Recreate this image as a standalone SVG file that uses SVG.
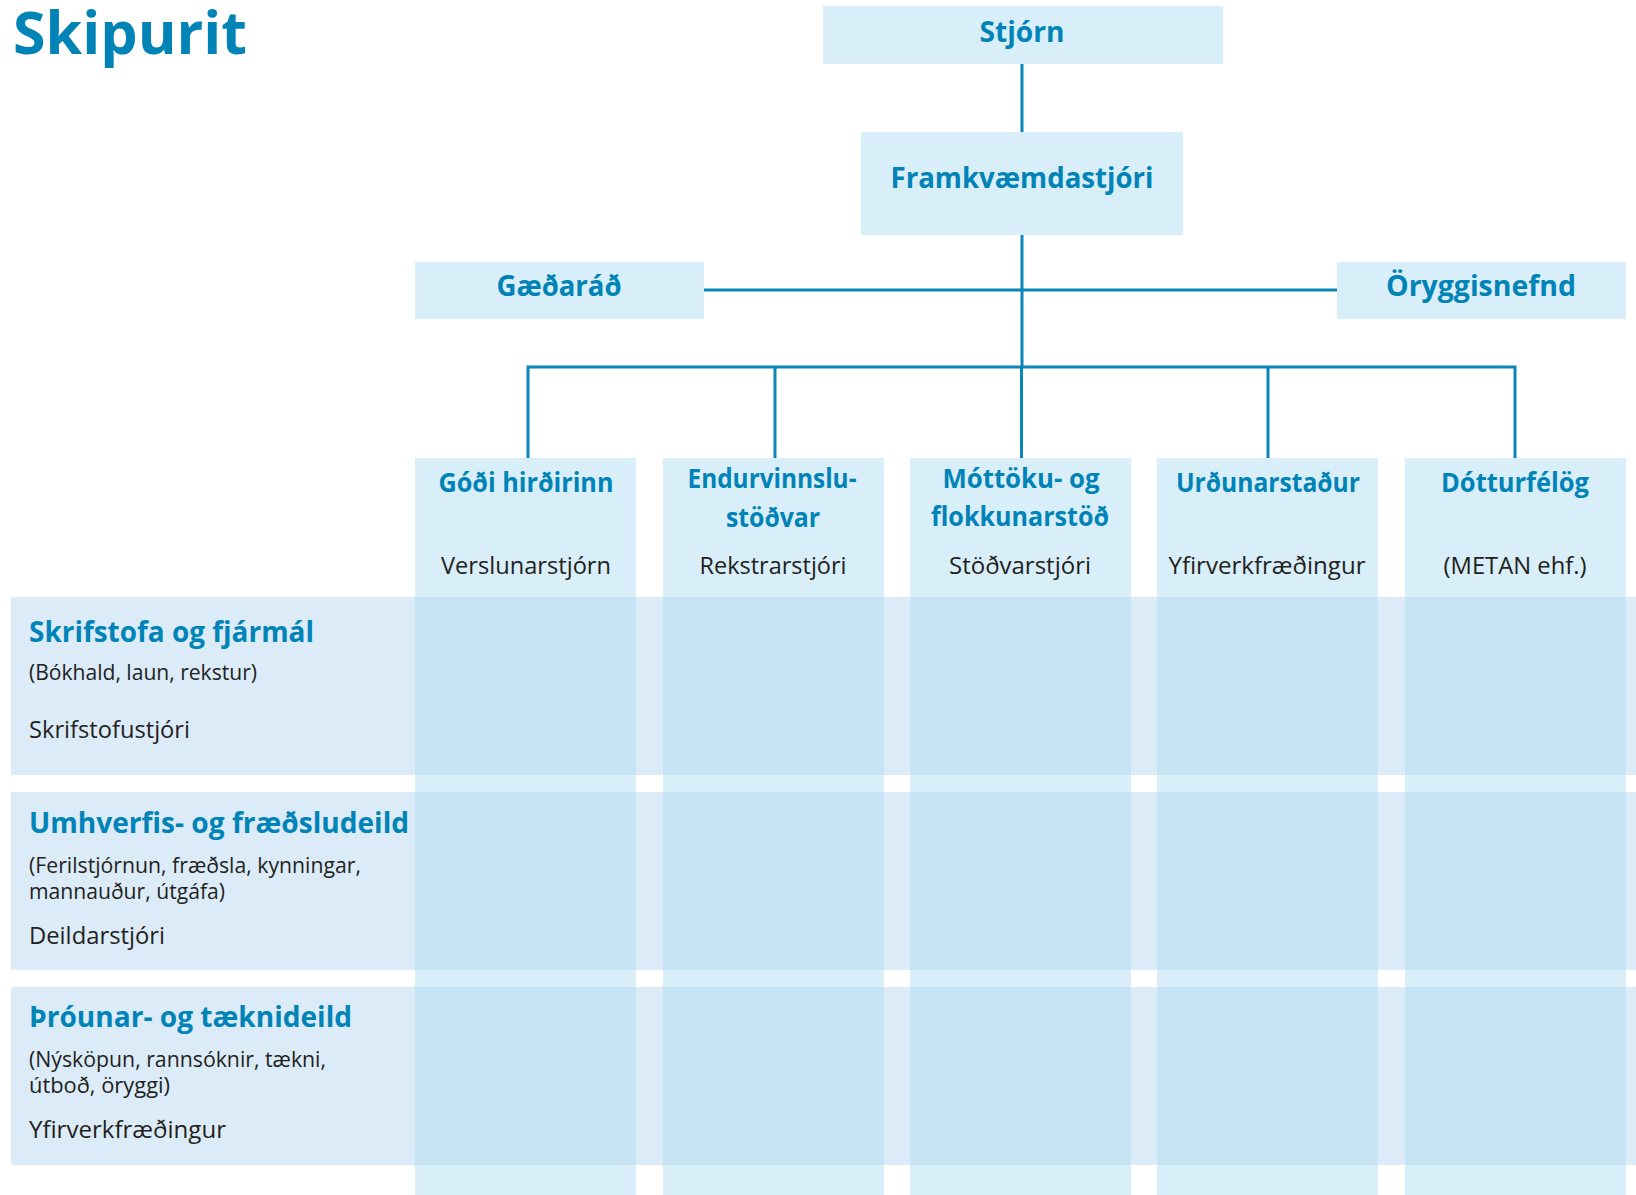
<svg xmlns="http://www.w3.org/2000/svg" width="1636" height="1195" viewBox="0 0 1636 1195">
<style>
.box{fill:#d8eef9}
.row{fill:#dbebf8}
.ov{fill:#c7e4f5}
.b{font-family:"Open Sans","Liberation Sans",sans-serif;font-weight:700;fill:#0083b7}
.r{font-family:"Open Sans","Liberation Sans",sans-serif;font-weight:400;fill:#231f20}
.c{text-anchor:middle}
.ln{stroke:#0a86b8;stroke-width:3;fill:none}
</style>
<rect width="1636" height="1195" fill="#ffffff"/>
<text class="b" x="13" y="54" font-size="59" textLength="234" lengthAdjust="spacingAndGlyphs">Skipurit</text>

<g id="connectors">
<line class="ln" x1="1022" y1="64" x2="1022" y2="132"/>
<line class="ln" x1="1022" y1="235" x2="1022" y2="367"/>
<line class="ln" x1="704" y1="290" x2="1337" y2="290"/>
<polyline class="ln" points="528,458 528,367 1515,367 1515,458"/>
<line class="ln" x1="775" y1="367" x2="775" y2="458"/>
<line class="ln" x1="1021.5" y1="367" x2="1021.5" y2="458"/>
<line class="ln" x1="1268" y1="367" x2="1268" y2="458"/>
</g>

<g id="stjorn">
<rect class="box" x="823" y="6" width="400" height="58"/>
<text class="b c" x="1022" y="42" font-size="28.5" textLength="85" lengthAdjust="spacingAndGlyphs">Stjórn</text>
</g>
<g id="framkvaemdastjori">
<rect class="box" x="861" y="132" width="322" height="103"/>
<text class="b c" x="1022" y="188" font-size="28.5" textLength="263" lengthAdjust="spacingAndGlyphs">Framkvæmdastjóri</text>
</g>
<g id="gaedarad">
<rect class="box" x="415" y="262" width="289" height="57"/>
<text class="b c" x="559" y="296" font-size="28.5" textLength="125" lengthAdjust="spacingAndGlyphs">Gæðaráð</text>
</g>
<g id="oryggisnefnd">
<rect class="box" x="1337" y="262" width="289" height="57"/>
<text class="b c" x="1481" y="296" font-size="28.5" textLength="190" lengthAdjust="spacingAndGlyphs">Öryggisnefnd</text>
</g>

<g id="columns">
<rect class="box" x="415" y="458" width="221" height="737"/>
<rect class="box" x="663" y="458" width="221" height="737"/>
<rect class="box" x="910" y="458" width="221" height="737"/>
<rect class="box" x="1157" y="458" width="221" height="737"/>
<rect class="box" x="1405" y="458" width="221" height="737"/>
</g>

<g id="rows">
<rect class="row" x="11" y="597" width="1625" height="178"/>
<rect class="row" x="11" y="792" width="1625" height="178"/>
<rect class="row" x="11" y="987" width="1625" height="178"/>
<g>
<rect class="ov" x="415" y="597" width="221" height="178"/>
<rect class="ov" x="663" y="597" width="221" height="178"/>
<rect class="ov" x="910" y="597" width="221" height="178"/>
<rect class="ov" x="1157" y="597" width="221" height="178"/>
<rect class="ov" x="1405" y="597" width="221" height="178"/>
<rect class="ov" x="415" y="792" width="221" height="178"/>
<rect class="ov" x="663" y="792" width="221" height="178"/>
<rect class="ov" x="910" y="792" width="221" height="178"/>
<rect class="ov" x="1157" y="792" width="221" height="178"/>
<rect class="ov" x="1405" y="792" width="221" height="178"/>
<rect class="ov" x="415" y="987" width="221" height="178"/>
<rect class="ov" x="663" y="987" width="221" height="178"/>
<rect class="ov" x="910" y="987" width="221" height="178"/>
<rect class="ov" x="1157" y="987" width="221" height="178"/>
<rect class="ov" x="1405" y="987" width="221" height="178"/>
</g>
</g>

<g id="godi-hirdirinn">
<text class="b c" x="526" y="492" font-size="26.5" textLength="175" lengthAdjust="spacingAndGlyphs">Góði hirðirinn</text>
<text class="r c" x="526" y="574" font-size="24.5" textLength="170" lengthAdjust="spacingAndGlyphs">Verslunarstjórn</text>
</g>
<g id="endurvinnslustodvar">
<text class="b c" x="772" y="488" font-size="26.5" textLength="169" lengthAdjust="spacingAndGlyphs">Endurvinnslu-</text>
<text class="b c" x="773" y="527" font-size="26.5" textLength="94" lengthAdjust="spacingAndGlyphs">stöðvar</text>
<text class="r c" x="773" y="574" font-size="24.5" textLength="147" lengthAdjust="spacingAndGlyphs">Rekstrarstjóri</text>
</g>
<g id="mottoku">
<text class="b c" x="1021" y="488" font-size="26.5" textLength="157" lengthAdjust="spacingAndGlyphs">Móttöku- og</text>
<text class="b c" x="1020" y="526" font-size="26.5" textLength="178" lengthAdjust="spacingAndGlyphs">flokkunarstöð</text>
<text class="r c" x="1020" y="574" font-size="24.5" textLength="142" lengthAdjust="spacingAndGlyphs">Stöðvarstjóri</text>
</g>
<g id="urdunarstadur">
<text class="b c" x="1268" y="492" font-size="26.5" textLength="184" lengthAdjust="spacingAndGlyphs">Urðunarstaður</text>
<text class="r c" x="1267" y="574" font-size="24.5" textLength="197" lengthAdjust="spacingAndGlyphs">Yfirverkfræðingur</text>
</g>
<g id="dotturfelog">
<text class="b c" x="1515" y="492" font-size="26.5" textLength="148" lengthAdjust="spacingAndGlyphs">Dótturfélög</text>
<text class="r c" x="1515" y="574" font-size="24.5" textLength="143" lengthAdjust="spacingAndGlyphs">(METAN ehf.)</text>
</g>

<g id="skrifstofa">
<text class="b" x="29" y="642" font-size="28.5" textLength="285" lengthAdjust="spacingAndGlyphs">Skrifstofa og fjármál</text>
<text class="r" x="29" y="680" font-size="21.5" textLength="228" lengthAdjust="spacingAndGlyphs">(Bókhald, laun, rekstur)</text>
<text class="r" x="29" y="738" font-size="24.5" textLength="161" lengthAdjust="spacingAndGlyphs">Skrifstofustjóri</text>
</g>
<g id="umhverfis">
<text class="b" x="29" y="833" font-size="28.5" textLength="380" lengthAdjust="spacingAndGlyphs">Umhverfis- og fræðsludeild</text>
<text class="r" x="29" y="873" font-size="21.5" textLength="332" lengthAdjust="spacingAndGlyphs">(Ferilstjórnun, fræðsla, kynningar,</text>
<text class="r" x="29" y="899" font-size="21.5" textLength="196" lengthAdjust="spacingAndGlyphs">mannauður, útgáfa)</text>
<text class="r" x="29" y="944" font-size="24.5" textLength="136" lengthAdjust="spacingAndGlyphs">Deildarstjóri</text>
</g>
<g id="throunar">
<text class="b" x="29" y="1027" font-size="28.5" textLength="323" lengthAdjust="spacingAndGlyphs">Þróunar- og tæknideild</text>
<text class="r" x="29" y="1067" font-size="21.5" textLength="297" lengthAdjust="spacingAndGlyphs">(Nýsköpun, rannsóknir, tækni,</text>
<text class="r" x="29" y="1093" font-size="21.5" textLength="141" lengthAdjust="spacingAndGlyphs">útboð, öryggi)</text>
<text class="r" x="29" y="1138" font-size="24.5" textLength="197" lengthAdjust="spacingAndGlyphs">Yfirverkfræðingur</text>
</g>
</svg>
